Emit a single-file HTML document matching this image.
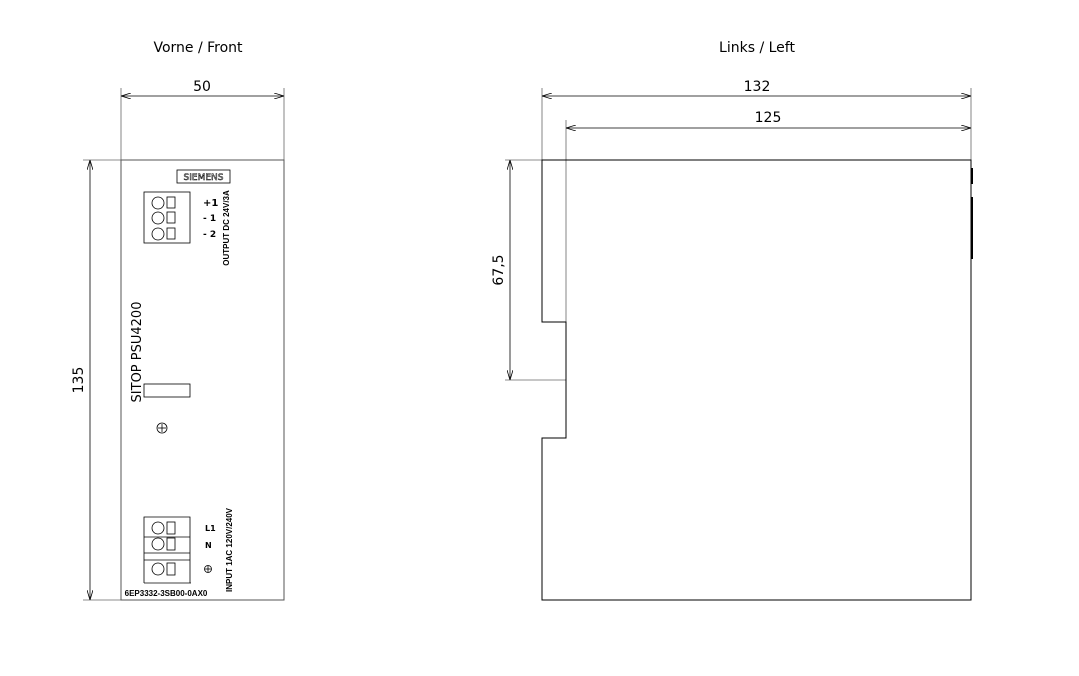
<!DOCTYPE html>
<html><head><meta charset="utf-8"><style>
html,body{margin:0;padding:0;background:#fff;}
svg{display:block;font-family:"DejaVu Sans","Liberation Sans",sans-serif;}
</style></head><body>
<svg width="1079" height="676" viewBox="0 0 1079 676" xmlns="http://www.w3.org/2000/svg">
<defs>
<marker id="a" viewBox="0 0 10 6" refX="10" refY="3" markerWidth="10" markerHeight="6" orient="auto-start-reverse" markerUnits="userSpaceOnUse"><path d="M0,0 L10,3 L0,6" fill="none" stroke="#000" stroke-width="0.8"/></marker>
</defs>
<g fill="#000" font-size="14">
<text x="198" y="52" text-anchor="middle">Vorne / Front</text>
<text x="757" y="52" text-anchor="middle">Links / Left</text>
</g>
<!-- FRONT -->
<g stroke="#000" stroke-width="0.8" fill="none">
<line x1="121" y1="88" x2="121" y2="160" stroke="#666"/>
<line x1="284" y1="88" x2="284" y2="160" stroke="#666"/>
<line x1="121" y1="96" x2="284" y2="96" marker-start="url(#a)" marker-end="url(#a)"/>
<line x1="83" y1="160" x2="121" y2="160" stroke="#666"/>
<line x1="83" y1="600" x2="121" y2="600" stroke="#666"/>
<line x1="90" y1="160" x2="90" y2="600" marker-start="url(#a)" marker-end="url(#a)"/>
<rect x="121" y="160" width="163" height="440" stroke="#555" stroke-width="1"/>
<rect x="177" y="170" width="53" height="13"/>
<rect x="144" y="192" width="46" height="51"/>
<circle cx="158" cy="203" r="6"/><rect x="167" y="197" width="8" height="11"/>
<circle cx="158" cy="218" r="6"/><rect x="167" y="212" width="8" height="11"/>
<circle cx="158" cy="234" r="6"/><rect x="167" y="228" width="8" height="11"/>
<rect x="144" y="384" width="46" height="13"/>
<circle cx="162" cy="428" r="5"/><line x1="158" y1="428" x2="166" y2="428"/><line x1="162" y1="424" x2="162" y2="432"/>
<path d="M144,583 V517 H190 V583"/>
<line x1="144" y1="537" x2="190" y2="537"/>
<line x1="144" y1="553" x2="190" y2="553"/>
<line x1="144" y1="560" x2="190" y2="560"/>
<line x1="144" y1="583" x2="191" y2="583"/>
<circle cx="158" cy="528" r="6"/><rect x="167" y="522" width="8" height="12"/>
<circle cx="158" cy="544" r="6"/><rect x="167" y="538" width="8" height="12"/>
<circle cx="158" cy="569" r="6"/><rect x="167" y="563" width="8" height="12"/>
<circle cx="208" cy="569" r="3.5"/><line x1="204.5" y1="569" x2="211.5" y2="569"/><line x1="208" y1="565.5" x2="208" y2="572.5"/>
</g>
<g fill="#000">
<text x="202" y="91" text-anchor="middle" font-size="14">50</text>
<text transform="translate(83,380) rotate(-90)" text-anchor="middle" font-size="14">135</text>
<text x="203.5" y="180" text-anchor="middle" font-size="9" fill="none" stroke="#000" stroke-width="0.5">SIEMENS</text>
<text x="203" y="206" font-size="10" font-weight="bold">+1</text>
<text x="203" y="221" font-size="9" font-weight="bold">- 1</text>
<text x="203" y="237" font-size="9" font-weight="bold">- 2</text>
<text transform="translate(229,228) rotate(-90)" text-anchor="middle" font-size="8" font-weight="bold" font-family="Liberation Sans Narrow,Liberation Sans,sans-serif">OUTPUT DC 24V/3A</text>
<text transform="translate(141,352) rotate(-90)" text-anchor="middle" font-size="13">SITOP PSU4200</text>
<text x="205" y="531" font-size="8" font-weight="bold">L1</text>
<text x="205" y="548" font-size="8" font-weight="bold">N</text>
<text transform="translate(232,550) rotate(-90)" text-anchor="middle" font-size="8" font-weight="bold" font-family="Liberation Sans Narrow,Liberation Sans,sans-serif">INPUT 1AC 120V/240V</text>
<text x="166" y="596" text-anchor="middle" font-size="8" font-weight="bold" font-family="Liberation Sans Narrow,Liberation Sans,sans-serif">6EP3332-3SB00-0AX0</text>
</g>
<!-- LEFT -->
<g stroke="#000" stroke-width="0.8" fill="none">
<line x1="542" y1="88" x2="542" y2="160" stroke="#666"/>
<line x1="971" y1="88" x2="971" y2="160" stroke="#666"/>
<line x1="542" y1="96" x2="971" y2="96" marker-start="url(#a)" marker-end="url(#a)"/>
<line x1="566" y1="120" x2="566" y2="322" stroke="#666"/>
<line x1="566" y1="128" x2="971" y2="128" marker-start="url(#a)" marker-end="url(#a)"/>
<line x1="505" y1="160" x2="542" y2="160" stroke="#666"/>
<line x1="505" y1="380" x2="566" y2="380" stroke="#666"/>
<line x1="510" y1="160" x2="510" y2="380" marker-start="url(#a)" marker-end="url(#a)"/>
<path d="M542,160 H971 V600 H542 V438 H566 V322 H542 Z" stroke-width="1"/>
</g>
<rect x="971" y="168" width="2" height="16" fill="#000"/>
<rect x="971" y="197" width="2" height="62" fill="#000"/>
<g fill="#000" font-size="14">
<text x="757" y="91" text-anchor="middle">132</text>
<text x="768" y="122" text-anchor="middle">125</text>
<text transform="translate(503,270) rotate(-90)" text-anchor="middle">67,5</text>
</g>
</svg>
</body></html>
